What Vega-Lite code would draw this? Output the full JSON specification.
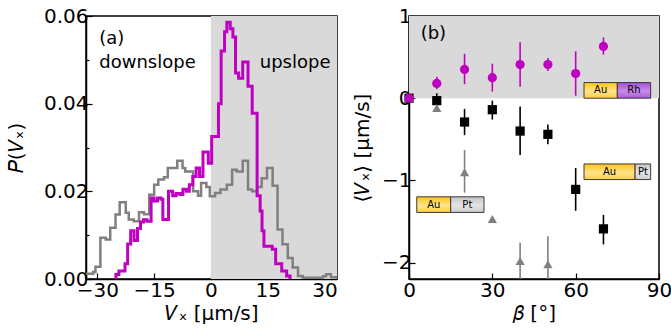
{
  "$schema": "https://vega.github.io/schema/vega-lite/v6.json",
  "padding": {"left": 5, "top": 5, "right": 0, "bottom": 0},
  "spacing": 13,
  "config": {
    "font": "DejaVu Sans",
    "view": {"stroke": "black", "strokeWidth": 1.5},
    "axis": {
      "labelFont": "DejaVu Sans", "labelFontSize": 20, "labelColor": "black",
      "titleFont": "DejaVu Sans", "titleFontSize": 20, "titleFontWeight": "normal", "titleColor": "black",
      "domainColor": "black", "domainWidth": 1.5, "tickColor": "black", "tickWidth": 1.2,
      "tickSize": -6, "grid": false, "labelPadding": 4, "labelFlush": false, "labelOverlap": false
    }
  },
  "datasets": {
    "one": [{"k": 1}],
    "grey": [
      {"vx": -33.0, "p": 0.0012}, {"vx": -31.1, "p": 0.0016}, {"vx": -30.5, "p": 0.0028},
      {"vx": -29.2, "p": 0.0094}, {"vx": -27.8, "p": 0.0090}, {"vx": -26.6, "p": 0.0117},
      {"vx": -25.2, "p": 0.0147}, {"vx": -24.1, "p": 0.0175}, {"vx": -22.5, "p": 0.0151},
      {"vx": -21.7, "p": 0.0136}, {"vx": -20.4, "p": 0.0132}, {"vx": -19.0, "p": 0.0152},
      {"vx": -17.7, "p": 0.0148}, {"vx": -16.3, "p": 0.0192}, {"vx": -15.0, "p": 0.0215},
      {"vx": -13.9, "p": 0.0227}, {"vx": -12.4, "p": 0.0232}, {"vx": -11.4, "p": 0.0253},
      {"vx": -10.0, "p": 0.0253}, {"vx": -8.9, "p": 0.0270}, {"vx": -7.5, "p": 0.0253},
      {"vx": -6.8, "p": 0.0245}, {"vx": -4.7, "p": 0.0200}, {"vx": -3.4, "p": 0.0190},
      {"vx": -2.6, "p": 0.0219}, {"vx": -1.2, "p": 0.0210}, {"vx": -0.3, "p": 0.0189},
      {"vx": 1.1, "p": 0.0196}, {"vx": 2.5, "p": 0.0204}, {"vx": 4.2, "p": 0.0215},
      {"vx": 5.6, "p": 0.0249}, {"vx": 6.8, "p": 0.0245}, {"vx": 8.4, "p": 0.0270},
      {"vx": 9.8, "p": 0.0204}, {"vx": 10.9, "p": 0.0200}, {"vx": 12.2, "p": 0.0210},
      {"vx": 13.4, "p": 0.0230}, {"vx": 14.8, "p": 0.0253}, {"vx": 16.3, "p": 0.0213},
      {"vx": 17.6, "p": 0.0113}, {"vx": 18.9, "p": 0.0079}, {"vx": 20.3, "p": 0.0048},
      {"vx": 21.6, "p": 0.0026}, {"vx": 23.0, "p": 0.0007}, {"vx": 24.3, "p": 0.0003},
      {"vx": 29.6, "p": 0.0006}, {"vx": 30.4, "p": 0.0011}, {"vx": 31.7, "p": 0.0004},
      {"vx": 33.3, "p": 0.0004}
    ],
    "mag": [
      {"vx": -25.2, "p": 0}, {"vx": -25.1, "p": 0.0010}, {"vx": -24.3, "p": 0.0018},
      {"vx": -22.7, "p": 0.0035}, {"vx": -22.0, "p": 0.0080}, {"vx": -21.2, "p": 0.0110},
      {"vx": -20.3, "p": 0.0088}, {"vx": -19.4, "p": 0.0115}, {"vx": -18.6, "p": 0.0130},
      {"vx": -17.8, "p": 0.0135}, {"vx": -16.9, "p": 0.0132}, {"vx": -15.8, "p": 0.0185},
      {"vx": -15.0, "p": 0.0178}, {"vx": -14.1, "p": 0.0185}, {"vx": -13.2, "p": 0.0182},
      {"vx": -12.7, "p": 0.0136}, {"vx": -11.2, "p": 0.0200}, {"vx": -10.1, "p": 0.0190},
      {"vx": -9.2, "p": 0.0195}, {"vx": -8.2, "p": 0.0193}, {"vx": -7.4, "p": 0.0205},
      {"vx": -6.5, "p": 0.0200}, {"vx": -5.7, "p": 0.0215}, {"vx": -4.8, "p": 0.0234},
      {"vx": -3.9, "p": 0.0253}, {"vx": -3.0, "p": 0.0234}, {"vx": -2.1, "p": 0.0290},
      {"vx": -0.7, "p": 0.0264}, {"vx": 0.2, "p": 0.0325}, {"vx": 2.0, "p": 0.0400},
      {"vx": 2.7, "p": 0.0520}, {"vx": 3.6, "p": 0.0564}, {"vx": 4.2, "p": 0.0586},
      {"vx": 5.1, "p": 0.0571}, {"vx": 5.8, "p": 0.0552}, {"vx": 6.5, "p": 0.0470},
      {"vx": 7.3, "p": 0.0458}, {"vx": 8.4, "p": 0.0495}, {"vx": 9.8, "p": 0.0440},
      {"vx": 10.9, "p": 0.0378}, {"vx": 12.2, "p": 0.0190}, {"vx": 13.0, "p": 0.0155},
      {"vx": 13.5, "p": 0.0110}, {"vx": 14.0, "p": 0.0075}, {"vx": 16.2, "p": 0.0068},
      {"vx": 17.1, "p": 0.0035}, {"vx": 18.7, "p": 0.0018}, {"vx": 20.0, "p": 0.0007},
      {"vx": 20.9, "p": 0}
    ],
    "annA": [
      {"vx": -29.5, "p": 0.0536, "t": "(a)"},
      {"vx": -29.5, "p": 0.0482, "t": "downslope"},
      {"vx": 12.9, "p": 0.0482, "t": "upslope"}
    ],
    "pts": [
      {"s": "AuPt2", "b": 0, "v": 0, "lo": 0, "hi": 0},
      {"s": "AuPt2", "b": 10, "v": -0.03, "lo": -0.10, "hi": 0.06},
      {"s": "AuPt2", "b": 20, "v": -0.29, "lo": -0.45, "hi": -0.13},
      {"s": "AuPt2", "b": 30, "v": -0.14, "lo": -0.26, "hi": -0.03},
      {"s": "AuPt2", "b": 40, "v": -0.40, "lo": -0.69, "hi": -0.10},
      {"s": "AuPt2", "b": 50, "v": -0.44, "lo": -0.56, "hi": -0.32},
      {"s": "AuPt2", "b": 60, "v": -1.11, "lo": -1.37, "hi": -0.85},
      {"s": "AuPt2", "b": 70, "v": -1.59, "lo": -1.78, "hi": -1.42},
      {"s": "AuPt1", "b": 0, "v": 0, "lo": 0, "hi": 0},
      {"s": "AuPt1", "b": 10, "v": -0.12, "lo": -0.12, "hi": -0.12},
      {"s": "AuPt1", "b": 20, "v": -0.90, "lo": -1.15, "hi": -0.63},
      {"s": "AuPt1", "b": 30, "v": -1.47, "lo": -1.47, "hi": -1.47},
      {"s": "AuPt1", "b": 40, "v": -1.98, "lo": -2.5, "hi": -1.76},
      {"s": "AuPt1", "b": 50, "v": -2.02, "lo": -2.5, "hi": -1.68},
      {"s": "AuRh", "b": 0, "v": 0, "lo": 0, "hi": 0},
      {"s": "AuRh", "b": 10, "v": 0.18, "lo": 0.11, "hi": 0.26},
      {"s": "AuRh", "b": 20, "v": 0.35, "lo": 0.17, "hi": 0.54},
      {"s": "AuRh", "b": 30, "v": 0.25, "lo": 0.08, "hi": 0.42},
      {"s": "AuRh", "b": 40, "v": 0.41, "lo": 0.14, "hi": 0.68},
      {"s": "AuRh", "b": 50, "v": 0.41, "lo": 0.33, "hi": 0.49},
      {"s": "AuRh", "b": 60, "v": 0.30, "lo": 0.03, "hi": 0.57},
      {"s": "AuRh", "b": 70, "v": 0.63, "lo": 0.53, "hi": 0.74}
    ],
    "boxes": [
      {"m": "Au", "b1": 63, "b2": 75, "v1": 0.0, "v2": 0.19, "bc": 69, "vc": 0.095},
      {"m": "Rh", "b1": 75, "b2": 87, "v1": 0.0, "v2": 0.19, "bc": 81, "vc": 0.095},
      {"m": "Au", "b1": 63, "b2": 81.4, "v1": -0.99, "v2": -0.80, "bc": 72.2, "vc": -0.895},
      {"m": "Pt", "b1": 81.4, "b2": 87, "v1": -0.99, "v2": -0.80, "bc": 84.2, "vc": -0.895},
      {"m": "Au", "b1": 2.8, "b2": 15, "v1": -1.39, "v2": -1.20, "bc": 8.9, "vc": -1.295},
      {"m": "Pt", "b1": 15, "b2": 27, "v1": -1.39, "v2": -1.20, "bc": 21, "vc": -1.295}
    ],
    "annB": [{"b": 4.2, "v": 0.717, "t": "(b)"}]
  },
  "hconcat": [
    {
      "width": 251,
      "height": 263,
      "layer": [
        {
          "data": {"name": "one"},
          "mark": {"type": "rect", "color": "#d9d9d9"},
          "encoding": {
            "x": {"datum": 0, "type": "quantitative", "title": "𝑉ₓ [μm/s]",
              "scale": {"domain": [-33, 33.3], "nice": false, "zero": false},
              "axis": {
                "values": [-30, -22.5, -15, -7.5, 0, 7.5, 15, 22.5, 30],
                "labelExpr": "datum.value % 15 === 0 ? datum.label : ''",
                "tickSize": {"condition": {"test": "datum.value % 15 !== 0", "value": -3}, "value": -6},
                "labelPadding": 7,
                "titlePadding": 3
              }
            },
            "x2": {"datum": 33.3},
            "y": {"datum": 0, "type": "quantitative", "title": "𝑃(𝑉ₓ)",
              "scale": {"domain": [0, 0.06], "nice": false},
              "axis": {
                "values": [0, 0.01, 0.02, 0.03, 0.04, 0.05, 0.06],
                "labelExpr": "round(datum.value * 100) % 2 === 0 ? format(datum.value, '.2f') : ''",
                "tickSize": {"condition": {"test": "round(datum.value * 100) % 2 !== 0", "value": -3}, "value": -6},
                "titlePadding": 17
              }
            },
            "y2": {"datum": 0.06}
          }
        },
        {
          "data": {"name": "grey"},
          "mark": {"type": "line", "interpolate": "step-after", "color": "#808080", "strokeWidth": 2.5, "clip": true},
          "encoding": {
            "x": {"field": "vx", "type": "quantitative", "title": "𝑉ₓ [μm/s]"},
            "y": {"field": "p", "type": "quantitative", "title": "𝑃(𝑉ₓ)"}
          }
        },
        {
          "data": {"name": "mag"},
          "mark": {"type": "line", "interpolate": "step-after", "color": "#c000c0", "strokeWidth": 3, "clip": true},
          "encoding": {
            "x": {"field": "vx", "type": "quantitative", "title": "𝑉ₓ [μm/s]"},
            "y": {"field": "p", "type": "quantitative", "title": "𝑃(𝑉ₓ)"}
          }
        },
        {
          "data": {"name": "annA"},
          "mark": {"type": "text", "align": "left", "baseline": "alphabetic", "fontSize": 18, "color": "black"},
          "encoding": {
            "x": {"field": "vx", "type": "quantitative", "title": "𝑉ₓ [μm/s]"},
            "y": {"field": "p", "type": "quantitative", "title": "𝑃(𝑉ₓ)"},
            "text": {"field": "t"}
          }
        }
      ]
    },
    {
      "width": 250,
      "height": 263,
      "layer": [
        {
          "data": {"name": "one"},
          "mark": {"type": "rect", "color": "#d9d9d9"},
          "encoding": {
            "x": {"datum": 0, "type": "quantitative", "title": "𝛽 [°]",
              "scale": {"domain": [0, 90], "nice": false, "zero": false},
              "axis": {"values": [0, 30, 60, 90], "format": "d", "labelPadding": 7, "titlePadding": 3}
            },
            "x2": {"datum": 90},
            "y": {"datum": 0, "type": "quantitative", "title": "⟨𝑉ₓ⟩ [μm/s]",
              "scale": {"domain": [-2.2, 1], "nice": false, "zero": false},
              "axis": {"values": [-2, -1, 0, 1], "format": "d", "titlePadding": 9}
            },
            "y2": {"datum": 1}
          }
        },
        {
          "data": {"name": "pts"},
          "mark": {"type": "rule", "strokeWidth": 1.6, "clip": true},
          "encoding": {
            "x": {"field": "b", "type": "quantitative", "title": "𝛽 [°]"},
            "y": {"field": "lo", "type": "quantitative", "title": "⟨𝑉ₓ⟩ [μm/s]"},
            "y2": {"field": "hi"},
            "color": {"field": "s", "type": "nominal", "scale": {"domain": ["AuPt2", "AuPt1", "AuRh"], "range": ["#000000", "#808080", "#c000c0"]}, "legend": null}
          }
        },
        {
          "data": {"name": "pts"},
          "mark": {"type": "point", "filled": true, "opacity": 1, "size": 85},
          "encoding": {
            "x": {"field": "b", "type": "quantitative", "title": "𝛽 [°]"},
            "y": {"field": "v", "type": "quantitative", "title": "⟨𝑉ₓ⟩ [μm/s]"},
            "color": {"field": "s", "type": "nominal", "scale": {"domain": ["AuPt2", "AuPt1", "AuRh"], "range": ["#000000", "#808080", "#c000c0"]}, "legend": null},
            "shape": {"field": "s", "type": "nominal", "scale": {"domain": ["AuPt2", "AuPt1", "AuRh"], "range": ["square", "triangle-up", "circle"]}, "legend": null}
          }
        },
        {
          "data": {"name": "boxes"},
          "transform": [{"filter": "datum.m === 'Au'"}],
          "mark": {"type": "rect", "stroke": "#3a3a3a", "strokeWidth": 1,
            "fill": {"gradient": "linear", "x1": 0, "y1": 0, "x2": 0, "y2": 1,
              "stops": [{"offset": 0, "color": "#ffc21a"}, {"offset": 0.55, "color": "#ffe48a"}, {"offset": 1, "color": "#ffcf45"}]}},
          "encoding": {
            "x": {"field": "b1", "type": "quantitative", "title": "𝛽 [°]"},
            "x2": {"field": "b2"},
            "y": {"field": "v1", "type": "quantitative", "title": "⟨𝑉ₓ⟩ [μm/s]"},
            "y2": {"field": "v2"}
          }
        },
        {
          "data": {"name": "boxes"},
          "transform": [{"filter": "datum.m === 'Rh'"}],
          "mark": {"type": "rect", "stroke": "#3a3a3a", "strokeWidth": 1,
            "fill": {"gradient": "linear", "x1": 0, "y1": 0, "x2": 0, "y2": 1,
              "stops": [{"offset": 0, "color": "#a34fd6"}, {"offset": 0.55, "color": "#c88ce8"}, {"offset": 1, "color": "#a95bd8"}]}},
          "encoding": {
            "x": {"field": "b1", "type": "quantitative", "title": "𝛽 [°]"},
            "x2": {"field": "b2"},
            "y": {"field": "v1", "type": "quantitative", "title": "⟨𝑉ₓ⟩ [μm/s]"},
            "y2": {"field": "v2"}
          }
        },
        {
          "data": {"name": "boxes"},
          "transform": [{"filter": "datum.m === 'Pt'"}],
          "mark": {"type": "rect", "stroke": "#3a3a3a", "strokeWidth": 1,
            "fill": {"gradient": "linear", "x1": 0, "y1": 0, "x2": 0, "y2": 1,
              "stops": [{"offset": 0, "color": "#c4c4c4"}, {"offset": 0.55, "color": "#e4e4e4"}, {"offset": 1, "color": "#cdcdcd"}]}},
          "encoding": {
            "x": {"field": "b1", "type": "quantitative", "title": "𝛽 [°]"},
            "x2": {"field": "b2"},
            "y": {"field": "v1", "type": "quantitative", "title": "⟨𝑉ₓ⟩ [μm/s]"},
            "y2": {"field": "v2"}
          }
        },
        {
          "data": {"name": "boxes"},
          "mark": {"type": "text", "align": "center", "baseline": "middle", "fontSize": 10, "color": "black"},
          "encoding": {
            "x": {"field": "bc", "type": "quantitative", "title": "𝛽 [°]"},
            "y": {"field": "vc", "type": "quantitative", "title": "⟨𝑉ₓ⟩ [μm/s]"},
            "text": {"field": "m"}
          }
        },
        {
          "data": {"name": "annB"},
          "mark": {"type": "text", "align": "left", "baseline": "alphabetic", "fontSize": 18, "color": "black"},
          "encoding": {
            "x": {"field": "b", "type": "quantitative", "title": "𝛽 [°]"},
            "y": {"field": "v", "type": "quantitative", "title": "⟨𝑉ₓ⟩ [μm/s]"},
            "text": {"field": "t"}
          }
        }
      ]
    }
  ]
}
